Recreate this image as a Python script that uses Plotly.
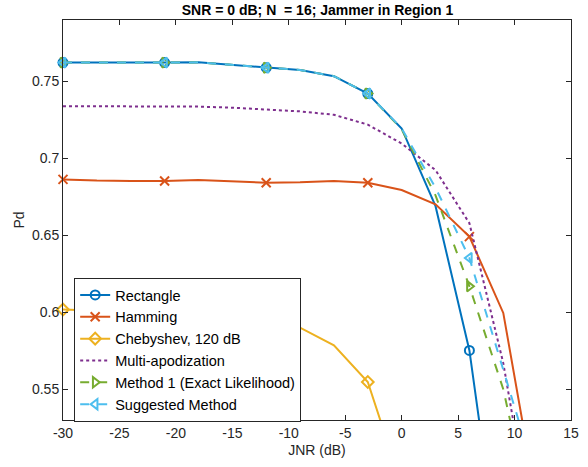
import plotly.graph_objects as go

jnr = [-30, -27, -24, -21, -18, -15, -12, -9, -6, -3, 0, 3, 6, 9, 12, 15]

rect = [0.7623, 0.7622, 0.7622, 0.7623, 0.7625, 0.7607, 0.7590, 0.7575, 0.7535, 0.7422,
        0.7195, 0.6690, 0.5752, 0.4225, 0.26, 0.10]
hamming = [0.6864, 0.6856, 0.6853, 0.6853, 0.6860, 0.6853, 0.6842, 0.6845, 0.6853, 0.6842,
           0.6795, 0.6702, 0.6492, 0.5996, 0.48, 0.35]
cheby = [0.6018, 0.6010, 0.6003, 0.5995, 0.5975, 0.5955, 0.5930, 0.5900, 0.5785, 0.5547,
         0.4875, 0.40, 0.30, 0.20, 0.10, 0.05]
multi = [0.7340, 0.7340, 0.7339, 0.7338, 0.7337, 0.7330, 0.7317, 0.7306, 0.7284, 0.7220,
         0.7097, 0.6924, 0.6579, 0.5670, 0.44, 0.30]
method1 = [0.7623, 0.7622, 0.7622, 0.7623, 0.7625, 0.7607, 0.7590, 0.7575, 0.7535, 0.7422,
           0.7190, 0.6760, 0.6169, 0.5500, 0.45, 0.33]
suggested = [0.7623, 0.7622, 0.7622, 0.7623, 0.7625, 0.7607, 0.7590, 0.7575, 0.7535, 0.7422,
             0.7195, 0.6810, 0.6353, 0.5620, 0.49, 0.36]

names = ["Rectangle", "Hamming", "Chebyshev, 120 dB", "Multi-apodization",
         "Method 1 (Exact Likelihood)", "Suggested Method"]
series = [rect, hamming, cheby, multi, method1, suggested]
colors = ["#0072BD", "#D95319", "#EDB120", "#7E2F8E", "#77AC30", "#4DBEEE"]
dashes = ["solid", "solid", "solid", "dot", "dash", "dash"]
symbols = ["circle-open", "x-thin-open", "diamond-open", None, "triangle-right-open", "triangle-left-open"]

xticks = [-30, -25, -20, -15, -10, -5, 0, 5, 10, 15]
xticktext = ["-30", "-25", "-20", "-15", "-10", "-5", "0", "5", "10", "15"]
yticks = [0.55, 0.6, 0.65, 0.7, 0.75]
yticktext = ["0.55", "0.6", "0.65", "0.7", "0.75"]

FONT = "Liberation Sans, Arial, Helvetica, sans-serif"
fig = go.Figure()

for name, ys, col, dash, sym in zip(names, series, colors, dashes, symbols):
    fig.add_trace(go.Scatter(x=jnr, y=ys, mode="lines", line=dict(color=col, width=2, dash=dash),
                             showlegend=False, legendgroup=name, hoverinfo="skip"))
    if sym is not None:
        mx = jnr[::3][:5]
        my = ys[::3][:5]
        fig.add_trace(go.Scatter(x=mx, y=my, mode="markers", cliponaxis=False,
                                 marker=dict(symbol=sym, size=9, color=col,
                                             line=dict(color=col, width=2)),
                                 showlegend=False, legendgroup=name))
        fig.add_trace(go.Scatter(x=[None], y=[None], mode="lines+markers", name=name,
                                 legendgroup=name,
                                 line=dict(color=col, width=2, dash=dash),
                                 marker=dict(symbol=sym, size=9, color=col,
                                             line=dict(color=col, width=2))))
    else:
        fig.add_trace(go.Scatter(x=[None], y=[None], mode="lines", name=name, legendgroup=name,
                                 line=dict(color=col, width=2, dash=dash)))

axis_common = dict(showgrid=False, zeroline=False, showline=True, linecolor="#262626",
                   linewidth=1, mirror="ticks", ticks="inside", ticklen=5, tickcolor="#262626",
                   automargin=False,
                   tickfont=dict(size=14, color="#262626", family=FONT))

fig.update_xaxes(range=[-30, 15], tickvals=xticks, ticktext=xticktext, **axis_common,
                 title=dict(text="JNR (dB)", font=dict(size=14, color="#262626", family=FONT),
                            standoff=5))
fig.update_yaxes(range=[0.53, 0.79], tickvals=yticks, ticktext=yticktext, **axis_common,
                 title=dict(text="Pd", font=dict(size=14, color="#262626", family=FONT),
                            standoff=4))

fig.update_layout(
    width=588, height=467,
    margin=dict(l=63, r=17, t=20, b=47),
    paper_bgcolor="white", plot_bgcolor="white",
    title=dict(text="<b>SNR = 0 dB; N  = 16; Jammer in Region 1</b>", x=0.54, xanchor="center",
               y=0.978, yanchor="middle",
               font=dict(size=14, color="black", family=FONT)),
    legend=dict(x=0.022, y=0.355, xanchor="left", yanchor="top",
                bgcolor="white", bordercolor="#262626", borderwidth=1,
                font=dict(size=14.5, color="black", family=FONT),
                tracegroupgap=0, itemwidth=30),
    showlegend=True,
)

fig.write_html("out.html", post_script="document.body.style.margin='0';",
               config={"displayModeBar": False})
